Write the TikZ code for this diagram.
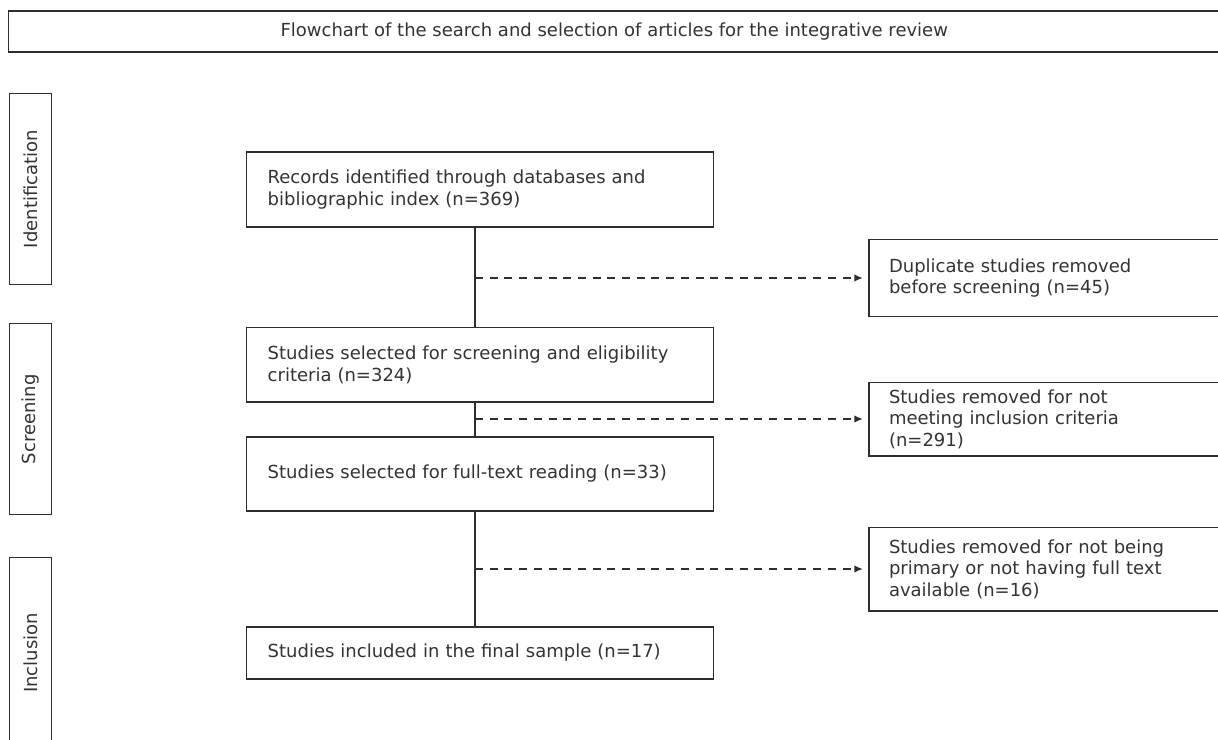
\documentclass[tikz,border=0pt]{standalone}
\usepackage{fontspec}
\setmainfont{DejaVu Sans}
\usetikzlibrary{arrows.meta}
\definecolor{ln}{HTML}{2E2E2E}
\definecolor{tx}{HTML}{333333}
\begin{document}
\begin{tikzpicture}[x=1pt,y=-1pt,
  box/.style={draw=ln, line width=1.3pt, text=tx, font=\fontsize{18}{21.5}\selectfont, inner ysep=0pt},
  mainbox/.style={box, align=left, minimum width=466.6pt, text width=424.6pt, inner xsep=21pt},
  sidebox/.style={box, align=left, minimum width=371pt, text width=331pt, inner xsep=20pt},
  phasebox/.style={box, rotate=90, align=center, minimum width=191pt, minimum height=42pt, inner xsep=0pt},
  titlebox/.style={box, line width=1.5pt, align=center, minimum width=1211.5pt, minimum height=41pt},
  conn/.style={draw=ln, line width=1.3pt},
  darr/.style={draw=ln, line width=1.5pt, dash pattern=on 8pt off 6.7pt, -{Latex[length=8.5pt,width=7.5pt]}, shorten >=5.5pt}]
\path[use as bounding box] (0,0) rectangle (1218,739);
\clip (0,0) rectangle (1218,739);

\node[titlebox] (title) at (614.25,31.5) {Flowchart of the search and selection of articles for the integrative review};

\node[phasebox] (pid) at (30.3,189) {Identification};
\node[phasebox] (psc) at (30.3,419.3) {Screening};
\node[phasebox] (pin) at (30.3,653) {Inclusion};

\node[mainbox, minimum height=75pt] (rec) at (480,189.5) {Records identified through databases and\\bibliographic index (n=369)};
\node[mainbox, minimum height=74.5pt] (scr) at (480,364.75) {Studies selected for screening and eligibility\\criteria (n=324)};
\node[mainbox, minimum height=74pt] (full) at (480,474) {Studies selected for full-text reading (n=33)};
\node[mainbox, minimum height=52pt] (fin) at (480,653) {Studies included in the final sample (n=17)};

\node[sidebox, minimum height=77.4pt] (dup) at (1054.5,278) {Duplicate studies removed\\before screening (n=45)};
\node[sidebox, minimum height=73.7pt] (exc) at (1054.5,419) {Studies removed for not\\meeting inclusion criteria\\(n=291)};
\node[sidebox, minimum height=83.7pt] (nft) at (1054.5,569) {Studies removed for not being\\primary or not having full text\\available (n=16)};

\coordinate (vx) at (475,0);
\draw[conn] (rec.south -| vx) -- (scr.north -| vx);
\draw[conn] (scr.south -| vx) -- (full.north -| vx);
\draw[conn] (full.south -| vx) -- (fin.north -| vx);

\draw[darr] (vx |- dup.west) -- (dup.west);
\draw[darr] (vx |- exc.west) -- (exc.west);
\draw[darr] (vx |- nft.west) -- (nft.west);
\end{tikzpicture}
\end{document}
